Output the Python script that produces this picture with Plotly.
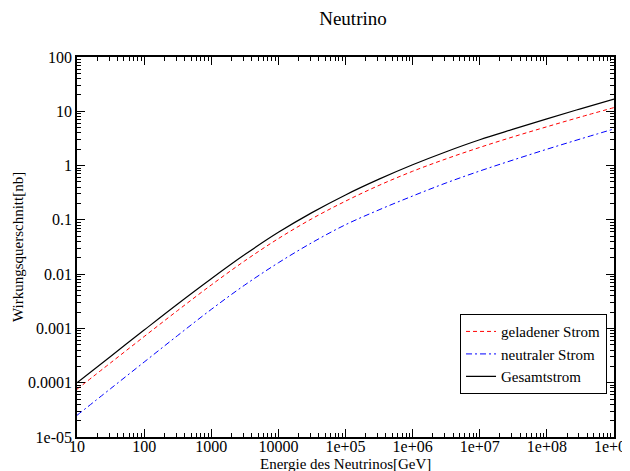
import plotly.graph_objects as go

# Energy of the neutrino [GeV]
energie = [1e1, 3.16e1, 1e2, 3.16e2, 1e3, 3.16e3, 1e4, 3.16e4, 1e5,
           3.16e5, 1e6, 3.16e6, 1e7, 3.16e7, 1e8, 3.16e8, 1e9]

# Cross sections [nb]
geladener_strom = [7.59e-5, 2.32e-4, 7.08e-4, 2.14e-3, 6.31e-3, 0.0176, 0.0452, 0.105, 0.221,
                   0.432, 0.785, 1.33, 2.16, 3.39, 5.19, 7.85, 11.7]
neutraler_strom = [2.51e-5, 7.76e-5, 2.40e-4, 7.41e-4, 2.24e-3, 6.31e-3, 0.0162, 0.0380, 0.0813,
                   0.153, 0.275, 0.479, 0.794, 1.27, 2.00, 3.09, 4.73]
gesamtstrom = [1.00e-4, 3.05e-4, 9.33e-4, 2.82e-3, 8.22e-3, 0.0229, 0.0589, 0.136, 0.288,
               0.562, 1.035, 1.80, 2.99, 4.68, 7.24, 11.1, 16.8]

x_tickvals = [1e1, 1e2, 1e3, 1e4, 1e5, 1e6, 1e7, 1e8, 1e9]
x_ticktext = ["10", "100", "1000", "10000", "1e+05", "1e+06", "1e+07", "1e+08", "1e+09"]
y_tickvals = [1e-5, 1e-4, 1e-3, 1e-2, 1e-1, 1, 10, 100]
y_ticktext = ["1e-05", "0.0001", "0.001", "0.01", "0.1", "1", "10", "100"]

FONT = "Liberation Serif"

# The page body adds an 8px margin, so the figure is sized/offset to compensate.
W, H = 622, 463
L, R, T, B = 69, 16, 49, 34
PW, PH = W - L - R, H - T - B

fig = go.Figure()
fig.add_trace(go.Scatter(x=energie, y=geladener_strom, mode="lines", name="geladener Strom",
                         line=dict(color="#ff0000", width=1, dash="4px,3px", shape="spline")))
fig.add_trace(go.Scatter(x=energie, y=neutraler_strom, mode="lines", name="neutraler Strom",
                         line=dict(color="#0000ff", width=1, dash="6px,3px,2px,3px", shape="spline")))
fig.add_trace(go.Scatter(x=energie, y=gesamtstrom, mode="lines", name="Gesamtstrom",
                         line=dict(color="#000000", width=1.2, shape="spline")))

axis_common = dict(
    type="log", showgrid=False, zeroline=False, automargin=False,
    showline=True, linecolor="black", linewidth=1.5, mirror="ticks",
    ticks="inside", ticklen=8, tickwidth=1.2, tickcolor="black",
    ticklabeloverflow="allow",
    tickfont=dict(family=FONT, size=16, color="black"),
    minor=dict(ticks="inside", ticklen=4, tickwidth=1, tickcolor="black", dtick="D1", showgrid=False),
)

fig.update_xaxes(range=[1, 9], tickmode="array", tickvals=x_tickvals, ticktext=x_ticktext,
                 ticklabelstandoff=-6, **axis_common)
fig.update_yaxes(range=[-5, 2], tickmode="array", tickvals=y_tickvals, ticktext=y_ticktext, **axis_common)

fig.add_annotation(text="Energie des Neutrinos[GeV]", xref="paper", yref="paper",
                   x=0.5, y=-26.5 / PH, xanchor="center", yanchor="middle", showarrow=False,
                   font=dict(family=FONT, size=15, color="black"))
fig.add_annotation(text="Wirkungsquerschnitt[nb]", xref="paper", yref="paper",
                   x=-59 / PW, y=0.5, xanchor="center", yanchor="middle", showarrow=False,
                   textangle=-90, font=dict(family=FONT, size=15, color="black"))

fig.update_layout(
    width=W, height=H,
    margin=dict(l=L, r=R, t=T, b=B, autoexpand=False),
    paper_bgcolor="white", plot_bgcolor="white",
    title=dict(text="Neutrino", x=345 / W, xanchor="center", y=1 - 10 / H, yanchor="middle",
               font=dict(family=FONT, size=19, color="black")),
    font=dict(family=FONT, color="black"),
    showlegend=True,
    legend=dict(x=0.987, xanchor="right", y=0.218, yanchor="middle",
                bgcolor="white", bordercolor="black", borderwidth=1,
                font=dict(family=FONT, size=15, color="black"),
                tracegroupgap=0, itemwidth=30),
)

fig.write_html("out.html")
